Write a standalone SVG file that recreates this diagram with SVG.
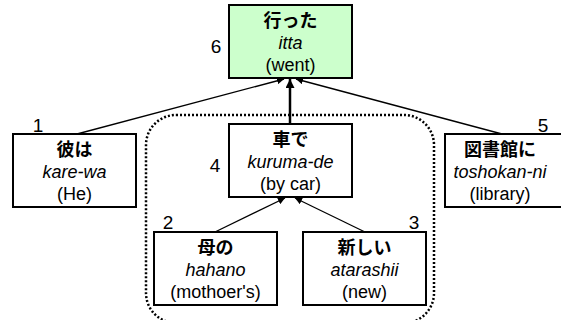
<svg xmlns="http://www.w3.org/2000/svg" width="561" height="320" viewBox="0 0 561 320">
<defs>
<style>
.box{fill:#fff;stroke:#000;stroke-width:2}
.top{fill:#ccffcc}
.jp{font-family:"Liberation Sans","Noto Sans CJK JP",sans-serif;font-weight:bold;font-size:18px;text-anchor:middle}
.ro{font-family:"Liberation Sans",sans-serif;font-style:italic;font-size:18px;text-anchor:middle}
.en{font-family:"Liberation Sans",sans-serif;font-size:18px;text-anchor:middle}
.num{font-family:"Liberation Sans",sans-serif;font-size:19px;text-anchor:middle}
.ln{stroke:#000;stroke-width:1.3;fill:none}
</style>
<marker id="ah" viewBox="0 0 10 10" refX="10" refY="5" markerWidth="7" markerHeight="7" markerUnits="userSpaceOnUse" orient="auto"><path d="M0,0 L10,5 L0,10 z" fill="#000"/></marker>
<marker id="ahb" viewBox="0 0 10 10" refX="10" refY="5" markerWidth="9" markerHeight="9" markerUnits="userSpaceOnUse" orient="auto"><path d="M0,0 L10,5 L0,10 z" fill="#000"/></marker>
</defs>
<rect x="146" y="115" width="288" height="208" rx="30" fill="none" stroke="#000" stroke-width="2.5" stroke-dasharray="2,2"/>
<g id="connectors">
<line class="ln" x1="77" y1="134" x2="284" y2="79" marker-end="url(#ah)"/>
<line class="ln" x1="502" y1="134" x2="296" y2="79" marker-end="url(#ah)"/>
<line x1="290" y1="124" x2="290" y2="79" stroke="#000" stroke-width="2.5" marker-end="url(#ahb)"/>
<line class="ln" x1="215" y1="232" x2="285" y2="198" marker-end="url(#ah)"/>
<line class="ln" x1="365" y1="232" x2="295" y2="198" marker-end="url(#ah)"/>
</g>
<g id="n6">
<rect class="box top" x="229" y="5" width="123" height="73"/>
<text class="jp" x="290.5" y="27">行った</text>
<text class="ro" x="290.5" y="49">itta</text>
<text class="en" x="290.5" y="71">(went)</text>
<text class="num" x="216" y="53">6</text>
</g>
<g id="n1">
<rect class="box" x="13" y="134" width="123" height="73"/>
<text class="jp" x="74.5" y="156">彼は</text>
<text class="ro" x="74.5" y="178">kare-wa</text>
<text class="en" x="74.5" y="200">(He)</text>
<text class="num" x="38" y="132">1</text>
</g>
<g id="n4">
<rect class="box" x="229" y="124" width="123" height="73"/>
<text class="jp" x="290.5" y="146">車で</text>
<text class="ro" x="290.5" y="168">kuruma-de</text>
<text class="en" x="290.5" y="190">(by car)</text>
<text class="num" x="215" y="172">4</text>
</g>
<g id="n5">
<rect class="box" x="445" y="134" width="123" height="73"/>
<text class="jp" x="500" y="156">図書館に</text>
<text class="ro" x="500" y="178">toshokan-ni</text>
<text class="en" x="500" y="200">(library)</text>
<text class="num" x="543" y="132">5</text>
</g>
<g id="n2">
<rect class="box" x="154" y="232" width="123" height="73"/>
<text class="jp" x="215.5" y="254">母の</text>
<text class="ro" x="215.5" y="276">hahano</text>
<text class="en" x="215.5" y="298">(mothoer's)</text>
<text class="num" x="168" y="229">2</text>
</g>
<g id="n3">
<rect class="box" x="303" y="232" width="123" height="73"/>
<text class="jp" x="364.5" y="254">新しい</text>
<text class="ro" x="364.5" y="276">atarashii</text>
<text class="en" x="364.5" y="298">(new)</text>
<text class="num" x="414" y="229">3</text>
</g>
</svg>
